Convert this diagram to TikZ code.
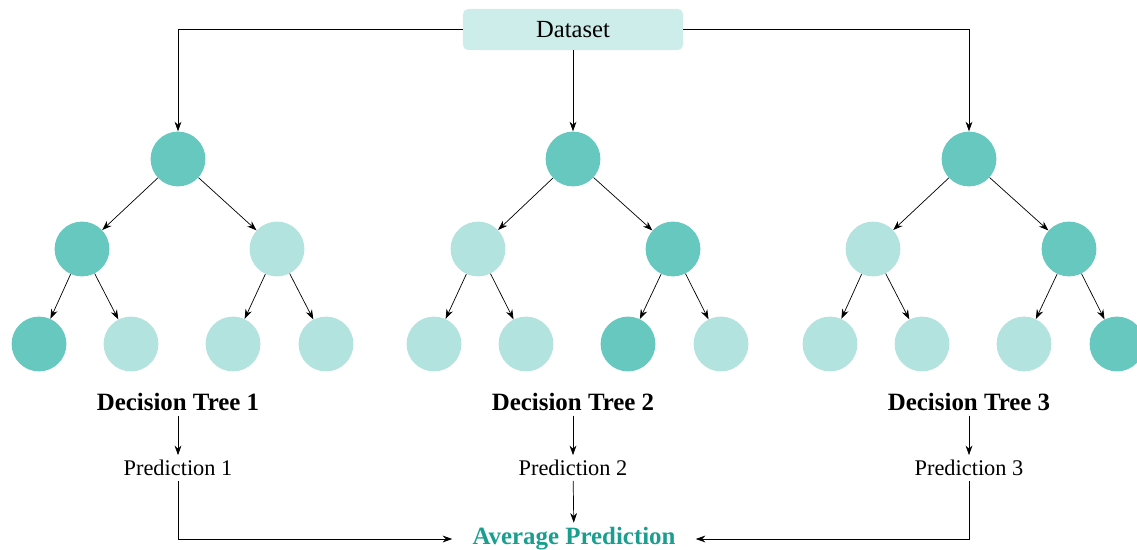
\documentclass[tikz,border=0pt]{standalone}
\usepackage{fontspec}
\setmainfont{Liberation Serif}
\usetikzlibrary{arrows.meta}

\definecolor{tealdark}{HTML}{67C8C0}
\definecolor{teallight}{HTML}{B2E3DF}
\definecolor{boxfill}{HTML}{CCEDEA}
\definecolor{avgtext}{HTML}{1A9E8F}

\begin{document}
\begin{tikzpicture}[x=0.025cm,y=-0.025cm,
		full/.style={circle,fill=tealdark,minimum size=1.37cm,inner sep=0pt},
		pale/.style={circle,fill=teallight,minimum size=1.37cm,inner sep=0pt},
		link/.style={-{Stealth[length=2.4mm,width=1.7mm]},line width=0.5pt},
		treename/.style={font=\fontsize{17.7pt}{20pt}\selectfont\bfseries},
		predname/.style={font=\fontsize{15.9pt}{18pt}\selectfont}]
	\useasboundingbox (0,0) rectangle (1137,550);
	% the data set on top
	\node[fill=boxfill,rounded corners=0.13cm,minimum width=5.5cm,minimum height=1.025cm,
		font=\fontsize{17.5pt}{20pt}\selectfont] (data) at (573,29.5) {Dataset};
	% first tree
	\node[full] (t1r) at (178,159) {};
	\node[full] (t1a) at (82,249) {};
	\node[pale] (t1b) at (277,249) {};
	\node[full] (t1aa) at (39,344) {};
	\node[pale] (t1ab) at (131,344) {};
	\node[pale] (t1ba) at (233,344) {};
	\node[pale] (t1bb) at (326,344) {};
	% second tree
	\node[full] (t2r) at (573,159) {};
	\node[pale] (t2a) at (478,249) {};
	\node[full] (t2b) at (673,249) {};
	\node[pale] (t2aa) at (434,344) {};
	\node[pale] (t2ab) at (526,344) {};
	\node[full] (t2ba) at (628,344) {};
	\node[pale] (t2bb) at (721,344) {};
	% third tree
	\node[full] (t3r) at (969,159) {};
	\node[pale] (t3a) at (873,249) {};
	\node[full] (t3b) at (1069,249) {};
	\node[pale] (t3aa) at (830,344) {};
	\node[pale] (t3ab) at (922,344) {};
	\node[pale] (t3ba) at (1024,344) {};
	\node[full] (t3bb) at (1117,344) {};
	% branches
	\foreach \t in {1,2,3} {
		\draw[link] (t\t r) -- (t\t a);
		\draw[link] (t\t r) -- (t\t b);
		\draw[link] (t\t a) -- (t\t aa);
		\draw[link] (t\t a) -- (t\t ab);
		\draw[link] (t\t b) -- (t\t ba);
		\draw[link] (t\t b) -- (t\t bb);
	}
	% data set feeds every tree
	\draw[link] (data.west) -| (t1r);
	\draw[link] (data) -- (t2r);
	\draw[link] (data.east) -| (t3r);
	% names and predictions
	\node[treename] (lab1) at (178,402) {Decision Tree 1};
	\node[treename] (lab2) at (573,402) {Decision Tree 2};
	\node[treename] (lab3) at (969,402) {Decision Tree 3};
	\node[predname] (pred1) at (178,468) {Prediction 1};
	\node[predname] (pred2) at (573,468) {Prediction 2};
	\node[predname] (pred3) at (969,468) {Prediction 3};
	\node[treename,text=avgtext,inner xsep=0.5cm] (avg) at (574,539) {Average Prediction};
	\draw[link] (lab1) -- (pred1);
	\draw[link] (lab2) -- (pred2);
	\draw[link] (lab3) -- (pred3);
	% combining the three predictions
	\draw[link] (pred1) |- (avg);
	\draw[link] (pred2) -- (avg);
	\draw[link] (pred3) |- (avg);
\end{tikzpicture}
\end{document}
